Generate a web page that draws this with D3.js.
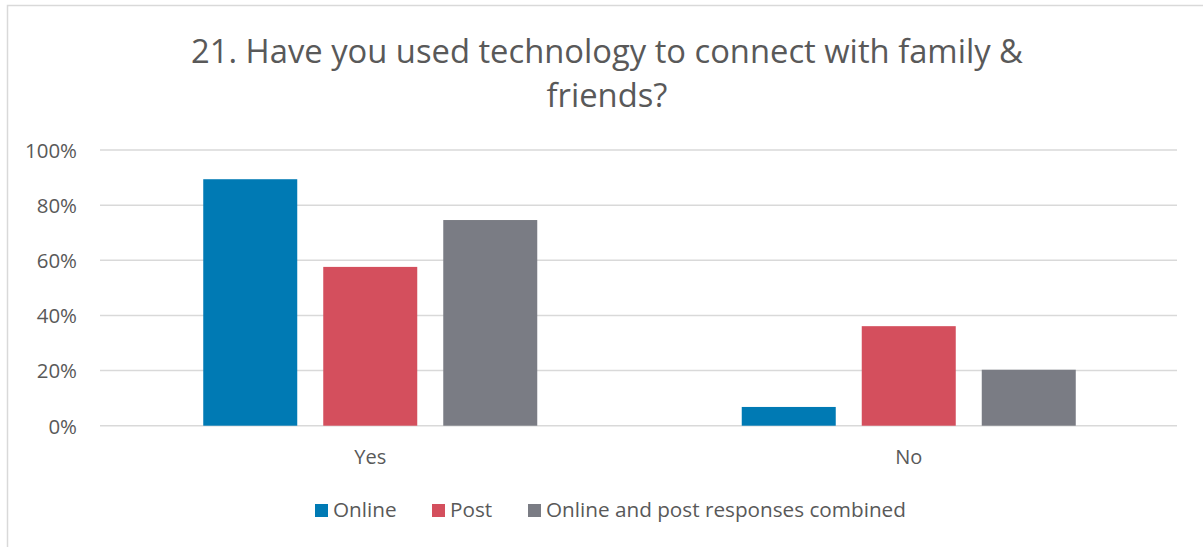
<!DOCTYPE html>
<head>
    <meta charset="utf-8">
    <title>Technology to connect</title>
    <style>
        body { margin: 0; background: #fff; }
        text { font-family: "Open Sans", "Liberation Sans", sans-serif; fill: #595959; }
    </style>
</head>
<body>
    <svg width="1203" height="547"></svg>
    <script src="https://cdn.jsdelivr.net/npm/d3@7"></script>
    <script>

    // data
    var categories = ["Yes", "No"];
    var seriesNames = ["Online", "Post", "Online and post responses combined"];
    var online = [0.894, 0.068];
    var post = [0.576, 0.361];
    var combined = [0.746, 0.203];
    var yTicks = [0, 0.2, 0.4, 0.6, 0.8, 1.0];
    var titleLines = ["21. Have you used technology to connect with family &", "friends?"];

    var colors = ["#007ab4", "#d44f5d", "#7a7c84"];
    var values = [online, post, combined];

    var svg = d3.select("svg");

    // outer chart border (right/bottom fall outside the picture)
    svg.append("rect")
        .attr("x", 7.5).attr("y", 5.5)
        .attr("width", 1210).attr("height", 560)
        .attr("fill", "none")
        .attr("stroke", "#d9d9d9")
        .attr("stroke-width", 1.5);

    // shrink/grow font so text spans a given width
    function fit(sel, target) {
        sel.each(function() {
            var w = this.getComputedTextLength();
            var fs = parseFloat(d3.select(this).style("font-size"));
            d3.select(this).style("font-size", (fs * target / w) + "px");
        });
    }

    var x0 = d3.scaleBand().domain(categories).range([101, 1178]);
    var x1 = d3.scaleBand().domain(d3.range(seriesNames.length))
        .range([0, x0.bandwidth()])
        .paddingInner(0.2167)
        .paddingOuter(0.852);
    var y = d3.scaleLinear().domain([0, 1]).range([425.7, 150]);

    // gridlines
    svg.append("g").selectAll("line")
        .data(yTicks)
        .enter().append("line")
        .attr("x1", 100).attr("x2", 1177)
        .attr("y1", function(d) { return y(d); })
        .attr("y2", function(d) { return y(d); })
        .attr("stroke", "#d9d9d9")
        .attr("stroke-width", 1.5);

    // y axis labels
    var yAxis = svg.append("g")
        .attr("transform", "translate(77,0)")
        .call(d3.axisLeft(y).tickValues(yTicks).tickFormat(d3.format(".0%")).tickSize(0).tickPadding(0));
    yAxis.select(".domain").remove();
    yAxis.selectAll("text")
        .style("font-size", "20px")
        .attr("fill", "#595959")
        .attr("font-family", null)
        .attr("dy", "0.36em");
    var topLabel = yAxis.selectAll("text").filter(function(d) { return d === 1; });
    fit(topLabel, 52);
    yAxis.selectAll("text").style("font-size", topLabel.style("font-size"));

    // bars
    var groups = svg.append("g").selectAll("g")
        .data(categories)
        .enter().append("g")
        .attr("transform", function(d) { return "translate(" + x0(d) + ",0)"; });

    groups.selectAll("rect")
        .data(function(d, i) { return values.map(function(v, s) { return { s: s, v: v[i] }; }); })
        .enter().append("rect")
        .attr("x", function(d) { return x1(d.s); })
        .attr("width", x1.bandwidth())
        .attr("y", function(d) { return y(d.v); })
        .attr("height", function(d) { return y(0) - y(d.v); })
        .attr("fill", function(d) { return colors[d.s]; });

    // x axis labels
    var xAxis = svg.append("g")
        .attr("transform", "translate(0,426)")
        .call(d3.axisBottom(x0).tickSize(0).tickPadding(0));
    xAxis.select(".domain").remove();
    xAxis.selectAll("text")
        .style("font-size", "20px")
        .attr("fill", "#595959")
        .attr("font-family", null)
        .attr("dy", "38px");

    // title
    var title = svg.append("g").selectAll("text")
        .data(titleLines)
        .enter().append("text")
        .attr("x", 607)
        .attr("y", function(d, i) { return 63 + i * 44; })
        .attr("text-anchor", "middle")
        .style("font-size", "28px")
        .text(function(d) { return d; });
    fit(title.filter(function(d, i) { return i === 0; }), 832);
    var tfs = title.filter(function(d, i) { return i === 0; }).style("font-size");
    title.style("font-size", tfs);

    // legend
    var legendX = [315, 432, 528];
    var legend = svg.append("g").selectAll("g")
        .data(seriesNames)
        .enter().append("g")
        .attr("transform", function(d, i) { return "translate(" + legendX[i] + ",504)"; });
    legend.append("rect")
        .attr("width", 13).attr("height", 13)
        .attr("fill", function(d, i) { return colors[i]; });
    var ltext = legend.append("text")
        .attr("x", 18).attr("y", 13)
        .style("font-size", "20px")
        .text(function(d) { return d; });
    fit(ltext.filter(function(d, i) { return i === 2; }), 360);
    ltext.style("font-size", ltext.filter(function(d, i) { return i === 2; }).style("font-size"));

    </script>
</body>
</html>
